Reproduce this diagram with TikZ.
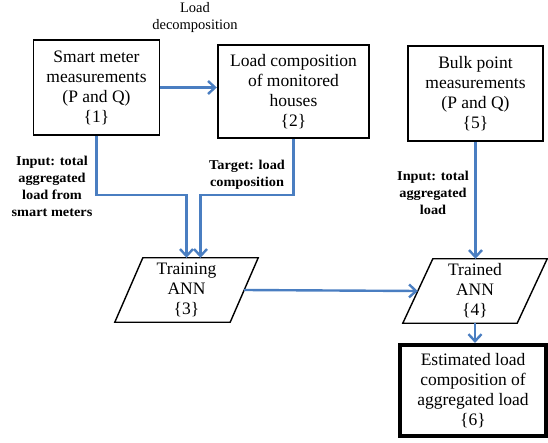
\documentclass[tikz,border=0pt]{standalone}
\usepackage{fontspec}
\setmainfont{Liberation Serif}
\newfontfamily\lblfont{Liberation Serif}[FakeStretch=1.06]
\usetikzlibrary{arrows.meta}
\definecolor{conn}{RGB}{74,126,193}
\begin{document}
\begin{tikzpicture}[x=1pt,y=-1pt,
  box/.style={draw, line width=1.4pt, align=center, inner sep=0pt,
    font=\fontsize{17.5}{20}\selectfont},
  paratext/.style={align=center, inner sep=0pt,
    font=\fontsize{17.5}{20}\selectfont},
  paraline/.style={draw, line width=1.4pt, line join=miter},
  lbl/.style={align=center, inner sep=0pt,
    font=\lblfont\bfseries\fontsize{13.5}{17}\selectfont},
  plainlbl/.style={align=center, inner sep=0pt,
    font=\fontsize{14.5}{17}\selectfont},
  conn/.style={draw=conn, line width=2.4pt,
    -{Straight Barb[length=7pt,width=13pt]}}]
\useasboundingbox (0,0) rectangle (548,443);

% boxes
\node[box, minimum width=126pt, minimum height=95pt] (b1) at (96.5,87.5)
  {Smart meter\\measurements\\(P and Q)\\\{1\}};
\node[box, line width=2.4pt, minimum width=151pt, minimum height=93pt] (b2) at (293.5,91.5)
  {Load composition\\of monitored\\houses\\\{2\}};
\node[box, line width=1.7pt, minimum width=135pt, minimum height=95pt] (b5) at (475.5,93.5)
  {Bulk point\\measurements\\(P and Q)\\\{5\}};
\node[box, line width=3.6pt, minimum width=146.5pt, minimum height=91.5pt] (b6) at (473,390.5)
  {Estimated load\\composition of\\aggregated load\\\{6\}};

% parallelograms
\node[paratext, minimum width=143pt, minimum height=64pt] (p3) at (186.5,290)
  {Training\\ANN\\\{3\}};
\draw[paraline] (p3.south west) -- ([xshift=-28pt]p3.south east) -- (p3.north east)
  -- ([xshift=28pt]p3.north west) -- cycle;
\node[paratext, minimum width=144pt, minimum height=64pt] (p4) at (475,291)
  {Trained\\ANN\\\{4\}};
\draw[paraline] (p4.south west) -- ([xshift=-30pt]p4.south east) -- (p4.north east)
  -- ([xshift=30pt]p4.north west) -- cycle;

% labels
\node[plainlbl] (l0) at (195,18) {Load\\decomposition};
\node[lbl] (l1) at (52,186) {Input: total\\aggregated\\load from\\smart meters};
\node[lbl] (l2) at (247,175) {Target: load\\composition};
\node[lbl] (l3) at (433,193) {Input: total\\aggregated\\load};

% connectors
\coordinate (j) at (0,195);
\draw[conn] (b1.east) -- (b1.east -| b2.west);
\draw[conn] (b1.south) -- (b1.south |- j) -| (p3.north);
\draw[conn] (b2.south) -- (b2.south |- j) -| ([xshift=14pt]p3.north);
\draw[conn] (b5.south) -- (b5.south |- p4.north);
\draw[conn] ([xshift=-14pt]p3.east) -- ([xshift=15pt]p4.west);
\draw[conn] (p4.south) -- (p4.south |- b6.north);
\end{tikzpicture}
\end{document}
